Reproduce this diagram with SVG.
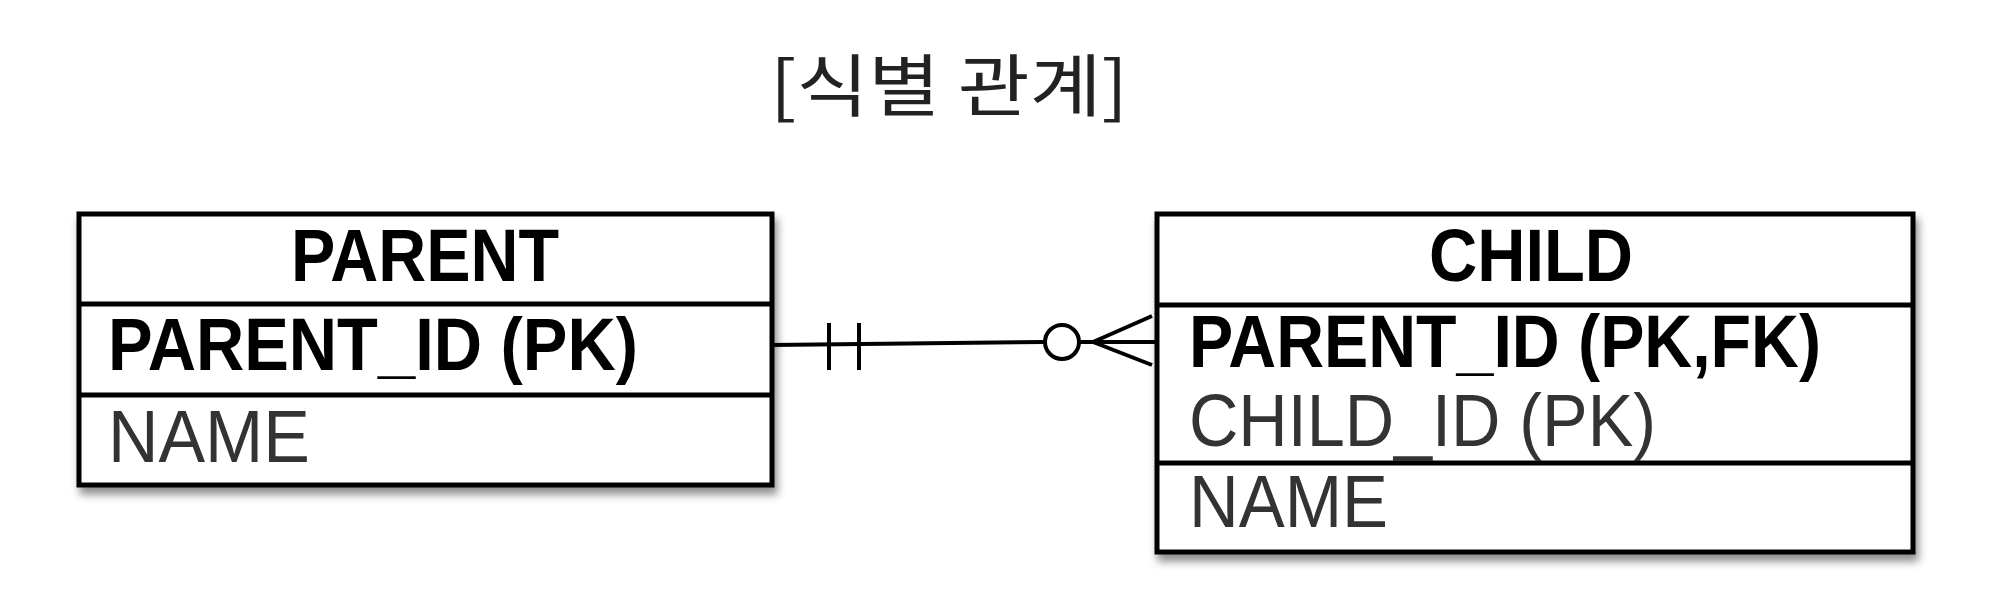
<svg xmlns="http://www.w3.org/2000/svg" width="2000" height="615" viewBox="0 0 2000 615">
<style>
.box{fill:#fff;stroke:#000;stroke-width:5}
.div{stroke:#000;stroke-width:5}
.b{font-family:"Liberation Sans",Arial,sans-serif;font-weight:bold;font-size:74px;fill:#000}
.r{font-family:"Liberation Sans",Arial,sans-serif;font-size:74px;fill:#333}
.t{font-family:"Noto Sans CJK KR",sans-serif;font-size:68px;fill:#222}
.ln{stroke:#000;stroke-width:4;fill:none}
</style>
<defs>
<filter id="sh" x="-5%" y="-5%" width="115%" height="120%">
<feDropShadow dx="3" dy="7" stdDeviation="4" flood-color="#000" flood-opacity="0.45"/>
</filter>
</defs>
<rect width="2000" height="615" fill="#fff"/>
<text class="t" x="949" y="111" text-anchor="middle" textLength="358" lengthAdjust="spacingAndGlyphs">[식별 관계]</text>
<g id="parent">
<rect class="box" x="79" y="214" width="693" height="271" filter="url(#sh)"/>
<line class="div" x1="79" y1="304" x2="772" y2="304"/>
<line class="div" x1="79" y1="395" x2="772" y2="395"/>
<text class="b" x="425" y="281" text-anchor="middle" textLength="268" lengthAdjust="spacingAndGlyphs">PARENT</text>
<text class="b" x="108" y="370" textLength="530" lengthAdjust="spacingAndGlyphs">PARENT_ID (PK)</text>
<text class="r" x="108" y="462" textLength="202" lengthAdjust="spacingAndGlyphs">NAME</text>
</g>
<g id="child">
<rect class="box" x="1157" y="214" width="756" height="338" filter="url(#sh)"/>
<line class="div" x1="1157" y1="305" x2="1913" y2="305"/>
<line class="div" x1="1157" y1="463" x2="1913" y2="463"/>
<text class="b" x="1531" y="281" text-anchor="middle" textLength="204" lengthAdjust="spacingAndGlyphs">CHILD</text>
<text class="b" x="1189" y="367" textLength="632" lengthAdjust="spacingAndGlyphs">PARENT_ID (PK,FK)</text>
<text class="r" x="1189" y="446" textLength="467" lengthAdjust="spacingAndGlyphs">CHILD_ID (PK)</text>
<text class="r" x="1189" y="527" textLength="199" lengthAdjust="spacingAndGlyphs">NAME</text>
</g>
<g id="connectors">
<path class="ln" d="M772 345 L1044 342"/>
<line class="ln" x1="829" y1="323" x2="829" y2="370"/>
<line class="ln" x1="859" y1="323" x2="859" y2="370"/>
<circle class="ln" cx="1062" cy="342" r="17"/>
<path class="ln" d="M1079 342 L1155 342 M1093 342 L1152 316 M1093 342 L1152 365"/>
</g>
</svg>
